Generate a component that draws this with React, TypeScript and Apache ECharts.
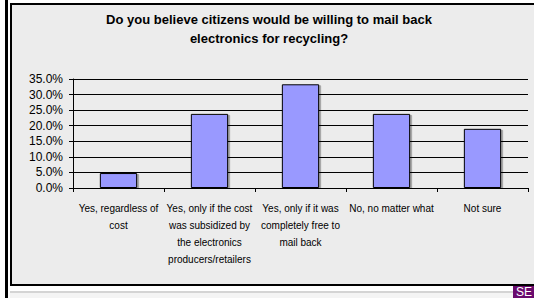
import React, { useEffect, useRef } from "react";
import * as echarts from "echarts";

const categories = [
  "Yes, regardless of\ncost",
  "Yes, only if the cost\nwas subsidized by\nthe electronics\nproducers/retailers",
  "Yes, only if it was\ncompletely free to\nmail back",
  "No, no matter what",
  "Not sure",
];
const percentValues = [4.8, 23.8, 33.3, 23.8, 19.0];
const titleText = "Do you believe citizens would be willing to mail back\nelectronics for recycling?";
const yMin = 0;
const yMax = 35;
const yInterval = 5;

const FONT = "'Liberation Sans', Arial, Helvetica, sans-serif";

export default function App() {
  const ref = useRef<HTMLDivElement>(null);
  useEffect(() => {
    if (!ref.current) return;
    const chart = echarts.init(ref.current, null, { renderer: "svg" });
    chart.setOption({
      animation: false,
      backgroundColor: "#ffffff",
      textStyle: { fontFamily: FONT },
      graphic: [
        { type: "rect", z: -20, shape: { x: 5, y: 0, width: 3, height: 298 }, style: { fill: "#000" } },
        {
          type: "rect",
          z: -20,
          shape: { x: 11, y: 4, width: 540, height: 281 },
          style: { fill: "#ececec", stroke: "#000", lineWidth: 2 },
        },
        { type: "rect", z: -20, shape: { x: 10, y: 291, width: 524, height: 2 }, style: { fill: "#d4d4d4" } },
        { type: "rect", z: -20, shape: { x: 10, y: 293, width: 524, height: 5 }, style: { fill: "#f4f4f4" } },
        { type: "rect", z: -10, shape: { x: 513, y: 286, width: 21, height: 12 }, style: { fill: "#6a0a6e" } },
        {
          type: "text",
          z: -5,
          x: 516,
          y: 286,
          style: { text: "SE", fill: "#ffffff", font: `12px ${FONT}` },
        },
      ],
      title: {
        text: titleText,
        left: 269,
        textAlign: "center",
        top: 10,
        padding: 0,
        textStyle: {
          fontFamily: FONT,
          fontSize: 13,
          fontWeight: "bold",
          color: "#000",
          lineHeight: 19,
        },
      },
      grid: { left: 73, right: 6, top: 79, bottom: 110, containLabel: false },
      xAxis: {
        type: "category",
        data: categories,
        axisLine: { show: true, lineStyle: { color: "#000", width: 1 } },
        axisTick: { show: true, length: 4, lineStyle: { color: "#000" } },
        axisLabel: {
          interval: 0,
          margin: 12,
          fontFamily: FONT,
          fontSize: 10,
          lineHeight: 17,
          color: "#000",
        },
        splitLine: { show: false },
      },
      yAxis: {
        type: "value",
        min: yMin,
        max: yMax,
        interval: yInterval,
        axisLine: { show: true, lineStyle: { color: "#000", width: 1 } },
        axisTick: { show: true, length: 4, lineStyle: { color: "#000" } },
        axisLabel: {
          margin: 10,
          fontFamily: FONT,
          fontSize: 12,
          color: "#000",
          formatter: (v: number) => v.toFixed(1) + "%",
        },
        splitLine: { show: true, lineStyle: { color: "#000", width: 1 } },
      },
      series: [
        {
          type: "bar",
          data: percentValues,
          barWidth: "41%",
          itemStyle: {
            color: "#9999ff",
            borderColor: "#000",
            borderWidth: 1,
            shadowColor: "rgba(0,0,0,0.3)",
            shadowOffsetX: 2,
            shadowOffsetY: 1,
            shadowBlur: 0,
          },
        },
      ],
    });
    return () => chart.dispose();
  }, []);
  return (
    <div
      ref={ref}
      style={{ position: "fixed", left: 0, top: 0, width: 534, height: 298 }}
    />
  );
}
